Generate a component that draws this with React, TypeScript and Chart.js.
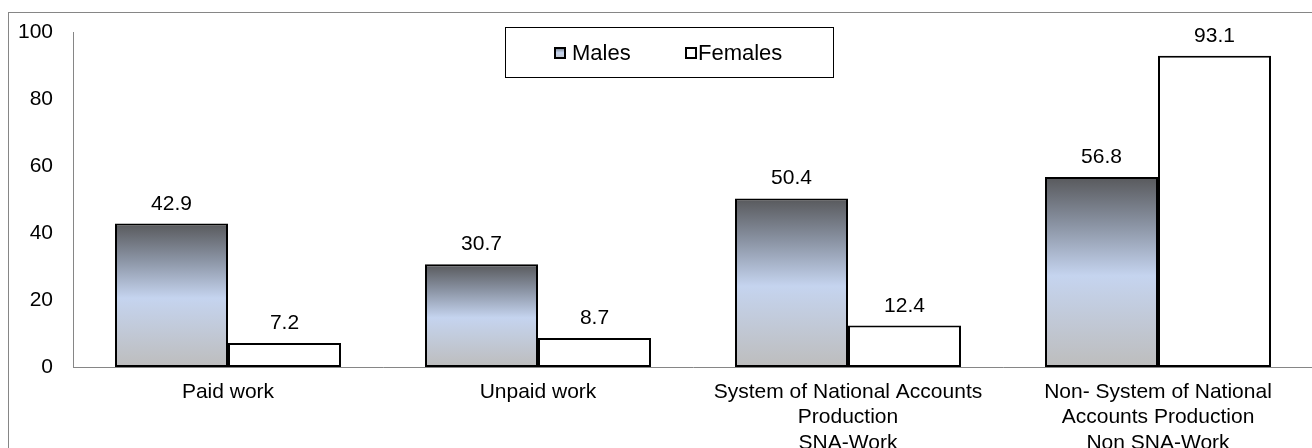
import React, { useEffect, useRef } from "react";
import { Chart, registerables } from "chart.js";

Chart.register(...registerables);

// ---- data ----
const categories: string[][] = [
  ["Paid work"],
  ["Unpaid work"],
  ["System of National Accounts", "Production", "SNA-Work"],
  ["Non- System of National", "Accounts Production", "Non SNA-Work"],
];
const seriesNames = ["Males", "Females"];
const malesValues = [42.9, 30.7, 50.4, 56.8];
const femalesValues = [7.2, 8.7, 12.4, 93.1];
const yMin = 0;
const yMax = 100;
const yStep = 20;

// ---- style ----
const FONT = "'Liberation Sans', Arial, sans-serif";
const FONT_SIZE = 21;
const W = 1340;
const H = 470;
const AXIS_GRAY = "#868686";

function makeMalesGradient(c: CanvasRenderingContext2D, top: number, bottom: number) {
  const g = c.createLinearGradient(0, top, 0, bottom);
  g.addColorStop(0, "#58595c");
  g.addColorStop(0.25, "#8a93a3");
  g.addColorStop(0.52, "#c5d4ef");
  g.addColorStop(1, "#bdbdbd");
  return g;
}

const frameAndLegendPlugin = {
  id: "frameAndLegend",
  beforeDraw(chart: any) {
    const c = chart.ctx as CanvasRenderingContext2D;
    c.save();
    c.fillStyle = "#ffffff";
    c.fillRect(0, 0, chart.width, chart.height);
    c.strokeStyle = AXIS_GRAY;
    c.lineWidth = 1;
    c.strokeRect(8.5, 12.5, chart.width + 20, chart.height + 20);
    c.restore();
  },
  afterDraw(chart: any) {
    const c = chart.ctx as CanvasRenderingContext2D;
    c.save();
    // legend box
    c.fillStyle = "#ffffff";
    c.fillRect(505.5, 27.5, 328, 50);
    c.strokeStyle = "#000000";
    c.lineWidth = 1;
    c.strokeRect(505.5, 27.5, 328, 50);
    const items = [
      { name: seriesNames[0], mx: 554, tx: 572, fill: "males" },
      { name: seriesNames[1], mx: 685, tx: 698, fill: "females" },
    ];
    c.font = `${FONT_SIZE + 1}px ${FONT}`;
    c.textBaseline = "alphabetic";
    c.textAlign = "left";
    for (const it of items) {
      if (it.fill === "males") {
        c.fillStyle = makeMalesGradient(c, 46, 59);
      } else {
        c.fillStyle = "#ffffff";
      }
      c.fillRect(it.mx, 47, 12, 12);
      c.strokeStyle = "#000000";
      c.lineWidth = 2;
      c.strokeRect(it.mx + 1, 48, 10, 10);
      c.fillStyle = "#000000";
      c.fillText(it.name, it.tx, 60);
    }
    c.restore();
  },
  afterDatasetsDraw(chart: any) {
    const c = chart.ctx as CanvasRenderingContext2D;
    c.save();
    c.font = `${FONT_SIZE}px ${FONT}`;
    c.fillStyle = "#000000";
    c.textAlign = "center";
    c.textBaseline = "alphabetic";
    chart.data.datasets.forEach((ds: any, i: number) => {
      const meta = chart.getDatasetMeta(i);
      meta.data.forEach((el: any, j: number) => {
        const v = ds.data[j] as number;
        c.fillText(v.toFixed(1), el.x, el.y - 14);
      });
    });
    c.restore();
  },
};

export default function App() {
  const ref = useRef<HTMLCanvasElement | null>(null);

  useEffect(() => {
    if (!ref.current) return;
    const chart = new Chart(ref.current, {
      type: "bar",
      data: {
        labels: categories,
        datasets: [
          {
            label: seriesNames[0],
            data: malesValues,
            backgroundColor: (ctx: any) => {
              const ch = ctx.chart;
              if (!ch.chartArea || ctx.type !== "data") return "#c5d4ef";
              const y = ch.scales.y;
              const top = y.getPixelForValue(ctx.raw);
              const bottom = y.getPixelForValue(0);
              return makeMalesGradient(ch.ctx, top, bottom);
            },
            borderColor: "#000000",
            borderWidth: 2,
            borderSkipped: false,
            categoryPercentage: 0.729,
            barPercentage: 1,
          },
          {
            label: seriesNames[1],
            data: femalesValues,
            backgroundColor: "#ffffff",
            borderColor: "#000000",
            borderWidth: 2,
            borderSkipped: false,
            categoryPercentage: 0.729,
            barPercentage: 1,
          },
        ],
      },
      options: {
        responsive: false,
        animation: false,
        devicePixelRatio: 1,
        layout: { padding: { left: 0, top: 28, right: W - 1313, bottom: 0 } },
        plugins: {
          legend: { display: false },
          tooltip: { enabled: false },
        },
        scales: {
          x: {
            grid: { display: false, drawTicks: false },
            border: { display: true, color: AXIS_GRAY, width: 1 },
            ticks: {
              color: "#000000",
              font: { family: FONT, size: FONT_SIZE, lineHeight: 25.7 / FONT_SIZE },
              padding: 12,
              maxRotation: 0,
              autoSkip: false,
            },
            afterFit: (s: any) => {
              s.height = H - 367;
            },
          },
          y: {
            min: yMin,
            max: yMax,
            grid: { display: false, drawTicks: false },
            border: { display: true, color: AXIS_GRAY, width: 1 },
            ticks: {
              stepSize: yStep,
              color: "#000000",
              font: { family: FONT, size: FONT_SIZE },
              padding: 20,
            },
            afterFit: (s: any) => {
              s.width = 73;
            },
          },
        },
      },
      plugins: [frameAndLegendPlugin],
    } as any);
    return () => chart.destroy();
  }, []);

  return (
    <div
      style={{
        position: "fixed",
        left: 0,
        top: 0,
        width: 1312,
        height: 448,
        overflow: "hidden",
        background: "#ffffff",
      }}
    >
      <canvas ref={ref} width={W} height={H} style={{ display: "block", width: W, height: H }} />
    </div>
  );
}
